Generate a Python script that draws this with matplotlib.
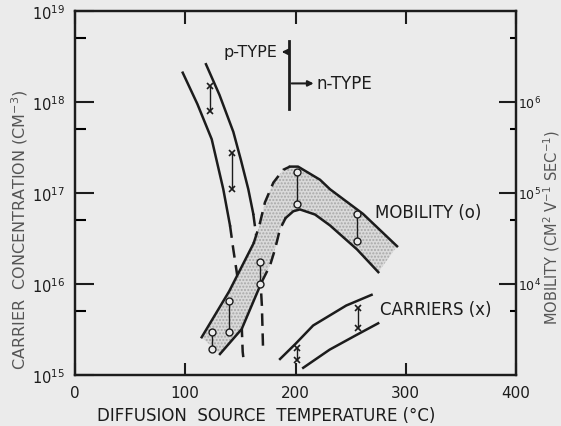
import numpy as np
import matplotlib.pyplot as plt
from matplotlib.ticker import NullFormatter

# p-type carrier concentration curves (solid part, then dashed part)
p1_t = [97.7, 111, 124.0, 134.5, 140.6]
p1_c = [2.1e18, 9.5e17, 3.9e17, 1.1e17, 4.4e16]
p1d_t = [140.6, 143.6, 146.7, 149.7, 151.2, 152.1, 152.7]
p1d_c = [4.4e16, 2.4e16, 1.35e16, 7.4e15, 3.5e15, 1.8e15, 1.55e15]

p2_t = [118.8, 131, 143.6, 150.5, 157.2, 161.7]
p2_c = [2.6e18, 1.2e18, 4.7e17, 2.3e17, 1.1e17, 5.9e16]
p2d_t = [161.7, 164.8, 167.8, 169.5, 170.5]
p2d_c = [5.9e16, 3.1e16, 1.35e16, 5.8e15, 2.1e15]

# n-type carrier curves
n1_t = [186, 200, 216, 246, 269]
n1_c = [1.5e15, 2.2e15, 3.5e15, 5.8e15, 7.6e15]
n2_t = [207, 231, 254, 275]
n2_c = [1.2e15, 1.9e15, 2.7e15, 3.7e15]

# carrier measurements (x)
car_t = [122.5, 142, 201, 257]
car_hi = [1.5e18, 2.75e17, 2.0e15, 5.4e15]
car_lo = [7.9e17, 1.1e17, 1.45e15, 3.3e15]

# mobility band, upper edge
mu_up_t = [114.9, 139.8, 162]
mu_up = [2.6e3, 8.3e3, 2.8e4]
mu_upd_t = [162, 167, 172.3, 179.9, 188.9, 195]
mu_upd = [2.8e4, 4.3e4, 7.9e4, 1.3e5, 1.8e5, 1.95e5]
mu_up2_t = [195, 202.3, 222.2, 231.3, 261.2, 292.1]
mu_up2 = [1.95e5, 1.95e5, 1.4e5, 1.1e5, 5.9e4, 2.6e4]

# mobility band, lower edge
mu_lo_t = [131.5, 151.2, 169.3]
mu_lo = [1.7e3, 3.2e3, 1.05e4]
mu_lod_t = [169.3, 176.9, 181.4, 185.9, 191]
mu_lod = [1.05e4, 1.6e4, 2.4e4, 4.0e4, 5.3e4]
mu_lo2_t = [191, 198, 204, 217.7, 231.3, 255.8, 275.1]
mu_lo2 = [5.3e4, 6.3e4, 6.6e4, 5.8e4, 4.4e4, 2.4e4, 1.35e4]

# mobility measurements (o)
mob_t = [124, 139.5, 167.5, 201.5, 255.5]
mob_hi = [2.95e3, 6.5e3, 1.74e4, 1.7e5, 5.9e4]
mob_lo = [1.95e3, 2.95e3, 1.0e4, 7.6e4, 3.0e4]

bg = '#ebebeb'
ink = '#1c1c1c'
lw = 1.8
dash = (0, (5, 3))

plt.rcParams['font.family'] = 'DejaVu Sans'
plt.rcParams['mathtext.default'] = 'regular'
fig = plt.figure(figsize=(5.61, 4.27), dpi=100, facecolor=bg)
ax = fig.add_axes([75/561, 1-376/427, 441/561, 364/427])
ax.set_facecolor(bg)
ax2 = ax.twinx()

ax.set_xlim(0, 400)
ax.set_yscale('log')
ax.set_ylim(1e15, 1e19)
ax2.set_yscale('log')
ax2.set_ylim(1e3, 1e7)

# mobility band
band_t = mu_up_t + mu_upd_t + mu_up2_t + mu_lo2_t[::-1] + mu_lod_t[::-1] + mu_lo_t[::-1]
band_v = mu_up + mu_upd + mu_up2 + mu_lo2[::-1] + mu_lod[::-1] + mu_lo[::-1]
ax2.fill(band_t, band_v, facecolor='#dadada', edgecolor='#a8a8a8', hatch='.....', linewidth=0)

for t, v in [(mu_up_t, mu_up), (mu_up2_t, mu_up2), (mu_lo_t, mu_lo), (mu_lo2_t, mu_lo2)]:
    ax2.plot(t, v, color=ink, lw=lw)
for t, v in [(mu_upd_t, mu_upd), (mu_lod_t, mu_lod)]:
    ax2.plot(t, v, color=ink, lw=lw, linestyle=dash)
for t, hi, lo in zip(mob_t, mob_hi, mob_lo):
    ax2.plot([t, t], [lo, hi], color=ink, lw=1, marker='o', ms=5, mfc=bg, mec=ink, mew=1)

# carrier curves
for t, c in [(p1_t, p1_c), (p2_t, p2_c), (n1_t, n1_c), (n2_t, n2_c)]:
    ax.plot(t, c, color=ink, lw=lw)
for t, c in [(p1d_t, p1d_c), (p2d_t, p2d_c)]:
    ax.plot(t, c, color=ink, lw=lw, linestyle=dash)
for t, hi, lo in zip(car_t, car_hi, car_lo):
    ax.plot([t, t], [lo, hi], color=ink, lw=1, marker='x', ms=4.5, mew=1.2)

# p / n type boundary
ax.plot([194, 194], [8.3e17, 4.7e18], color=ink, lw=2)
ax.annotate('', xy=(185, 3.55e18), xytext=(194, 3.55e18),
            arrowprops=dict(arrowstyle='-|>', color=ink, lw=1.5, mutation_scale=8))
ax.annotate('', xy=(219, 1.6e18), xytext=(194, 1.6e18),
            arrowprops=dict(arrowstyle='-|>', color=ink, lw=1.5, mutation_scale=8))
ax.text(184, 3.55e18, 'p-TYPE', ha='right', va='center', fontsize=11.5, color=ink)
ax.text(219, 1.6e18, 'n-TYPE', ha='left', va='center', fontsize=12, color=ink)
ax.text(272, 6.2e16, 'MOBILITY (o)', ha='left', va='center', fontsize=12, color=ink)
ax.text(277, 5.3e15, 'CARRIERS (x)', ha='left', va='center', fontsize=12, color=ink)

# ticks
ax.set_xticks([0, 100, 200, 300, 400])
ax.tick_params(axis='x', direction='in', length=9, width=1.5, pad=7, top=True,
               labelsize=11, colors=ink)
ax.set_yticks([1e15, 1e16, 1e17, 1e18, 1e19],
              [r'$10^{15}$', r'$10^{16}$', r'$10^{17}$', r'$10^{18}$', r'$10^{19}$'])
ax.set_yticks([5e15, 5e16, 5e17, 5e18], minor=True)
ax.yaxis.set_minor_formatter(NullFormatter())
ax.tick_params(axis='y', which='major', direction='in', length=14, width=1.5, pad=7,
               labelsize=10.5, colors=ink)
ax.tick_params(axis='y', which='minor', direction='in', length=8, width=1.5)

ax2.set_yticks([1e4, 1e5, 1e6], [r'$10^{4}$', r'$10^{5}$', r'$10^{6}$'])
ax2.set_yticks([5e3, 5e4, 5e5, 5e6], minor=True)
ax2.yaxis.set_minor_formatter(NullFormatter())
ax2.tick_params(axis='y', which='major', direction='in', length=12, width=1.5, pad=1.5,
                labelsize=9, colors=ink)
ax2.tick_params(axis='y', which='minor', direction='in', length=4, width=1.5)

for a in (ax, ax2):
    for s in a.spines.values():
        s.set_linewidth(1.6)
        s.set_color(ink)

# axis labels
fig.text(266/561, 1-416/427, 'DIFFUSION  SOURCE  TEMPERATURE (°C)', ha='center', va='center',
         fontsize=12, color=ink)
fig.text(20/561, 1-230/427, r'CARRIER  CONCENTRATION (CM$^{-3}$)', ha='center', va='center',
         rotation=90, fontsize=11.5, color='#555555')
fig.text(552/561, 1-228/427, r'MOBILITY (CM$^{2}$ V$^{-1}$ SEC$^{-1}$)', ha='center', va='center',
         rotation=90, fontsize=10.5, color='#555555')

fig.savefig('out.png', dpi=100, facecolor=bg)
